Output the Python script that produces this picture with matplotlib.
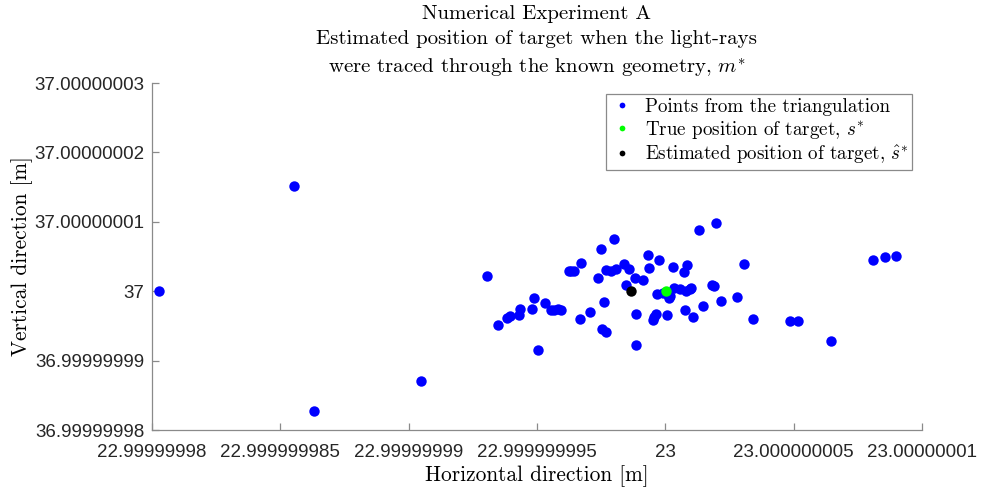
import matplotlib
matplotlib.use("Agg")
import matplotlib.pyplot as plt
import numpy as np

plt.rcParams['mathtext.fontset'] = 'cm'
plt.rcParams['axes.formatter.use_mathtext'] = True

# Base coordinates [m] and offsets in units of 1e-9 m
x_base = 23.0
y_base = 37.0
unit = 1e-9

# Points from the triangulation (offsets, 1e-9 m)
tri_dx = [-19.72, -14.45, -13.68, -9.51, -6.96, -6.52, -6.17, -6.07, -5.70, -5.68,
          -5.19, -5.10, -4.98, -4.69, -4.46, -4.33, -4.17, -4.05, -3.75, -3.66,
          -3.55, -3.34, -3.27, -2.93, -2.61, -2.52, -2.48, -2.40, -2.30, -2.31,
          -2.10, -2.01, -1.92, -1.62, -1.55, -1.43, -1.16, -1.16, -1.17, -0.86,
          -0.69, -0.64, -0.49, -0.43, -0.35, -0.34, -0.23, 0.07, 0.13, 0.19,
          0.31, 0.32, 0.58, 0.73, 0.75, 0.81, 0.86, 0.95, 1.00, 1.08,
          1.33, 1.45, 1.82, 1.88, 1.96, 2.17, 2.78, 3.05, 3.42, 4.84,
          5.16, 6.47, 8.09, 8.54, 8.98, -0.10, 0.10]
tri_dy = [0.00, 15.17, -17.20, -13.00, 2.20, -4.80, -3.80, -3.60, -3.40, -2.50,
          -2.60, -1.00, -8.50, -1.69, -2.74, -2.74, -2.59, -2.78, 2.84, 2.98,
          2.84, -4.03, 4.08, -2.98, 1.92, 6.15, -5.48, -1.49, -5.81, 3.07,
          2.84, 7.49, 3.17, 3.85, 0.91, 3.21, -3.31, -7.78, 1.92, 1.63,
          5.28, 3.36, -4.08, -3.65, -3.31, -0.38, 4.51, -3.50, -1.05, -0.67,
          3.50, 0.53, 0.29, 2.78, -2.78, 0.05, 3.75, 0.38, 0.53, -3.65,
          8.75, -2.11, 0.91, 0.77, 9.84, -1.39, -0.77, 3.99, -4.03, -4.32,
          -4.32, -7.11, 4.56, 4.95, 5.09, -0.30, -0.60]

true_dx, true_dy = [0.01], [0.04]
est_dx, est_dy = [-1.34], [0.0]

xtick_vals = [22.99999998, 22.999999985, 22.99999999, 22.999999995, 23.0, 23.000000005, 23.00000001]
xtick_labels = ['22.99999998', '22.999999985', '22.99999999', '22.999999995', '23', '23.000000005', '23.00000001']
ytick_vals = [36.99999998, 36.99999999, 37.0, 37.00000001, 37.00000002, 37.00000003]
ytick_labels = ['36.99999998', '36.99999999', '37', '37.00000001', '37.00000002', '37.00000003']

tx = x_base + np.array(tri_dx) * unit
ty = y_base + np.array(tri_dy) * unit
gx = x_base + np.array(true_dx) * unit
gy = y_base + np.array(true_dy) * unit
ex = x_base + np.array(est_dx) * unit
ey = y_base + np.array(est_dy) * unit

fig = plt.figure(figsize=(9.82, 4.90), dpi=100)
ax = fig.add_axes([152/982, 1-430/490, (922-152)/982, (430-83)/490])

ms = 7.5
ax.plot(tx, ty, 'o', color='#0000ff', ms=ms, mec='none', label='Points from the triangulation')
ax.plot(gx, gy, 'o', color='#00ff00', ms=ms, mec='none', label=r'True position of target, $s^{*}$')
ax.plot(ex, ey, 'o', color='black', ms=ms, mec='none', label=r'Estimated position of target, $\hat{s}^{*}$')

ax.set_xlim(xtick_vals[0], xtick_vals[-1])
ax.set_ylim(ytick_vals[0], ytick_vals[-1])
ax.set_xticks(xtick_vals)
ax.set_xticklabels(xtick_labels, fontfamily='Liberation Sans', fontsize=13.5, color='#262626')
ax.set_yticks(ytick_vals)
ax.set_yticklabels(ytick_labels, fontfamily='Liberation Sans', fontsize=13.5, color='#262626')

for s in ['top', 'right']:
    ax.spines[s].set_visible(False)
for s in ['left', 'bottom']:
    ax.spines[s].set_color('#8a8a8a')
    ax.spines[s].set_linewidth(0.9)
ax.tick_params(direction='in', length=5, width=0.9, color='#8a8a8a')
ax.tick_params(axis='x', pad=10)
ax.tick_params(axis='y', pad=5.5)

lfont = dict(fontfamily='cmr10', fontsize=15.4)
ax.set_xlabel('Horizontal direction [m]', labelpad=3, **lfont)
ax.set_ylabel('Vertical direction [m]', labelpad=1, **lfont)
fig.text(537/982, 1-5/490, 'Numerical Experiment A\nEstimated position of target when the light-rays\nwere traced through the known geometry, $m^{*}$',
         ha='center', va='top', linespacing=1.5, fontfamily='cmr10', fontsize=15)

leg = ax.legend(loc='upper right', bbox_to_anchor=(912/982, 1-94/490), bbox_transform=fig.transFigure,
                prop={'family': 'cmr10', 'size': 13.7}, markerscale=0.55, handlelength=1.3,
                handletextpad=0.55, borderpad=0.2, labelspacing=0.15, borderaxespad=0,
                fancybox=False, framealpha=1)
leg.get_frame().set_edgecolor('#8a8a8a')
leg.get_frame().set_linewidth(0.9)

fig.savefig('out.png', dpi=100)
